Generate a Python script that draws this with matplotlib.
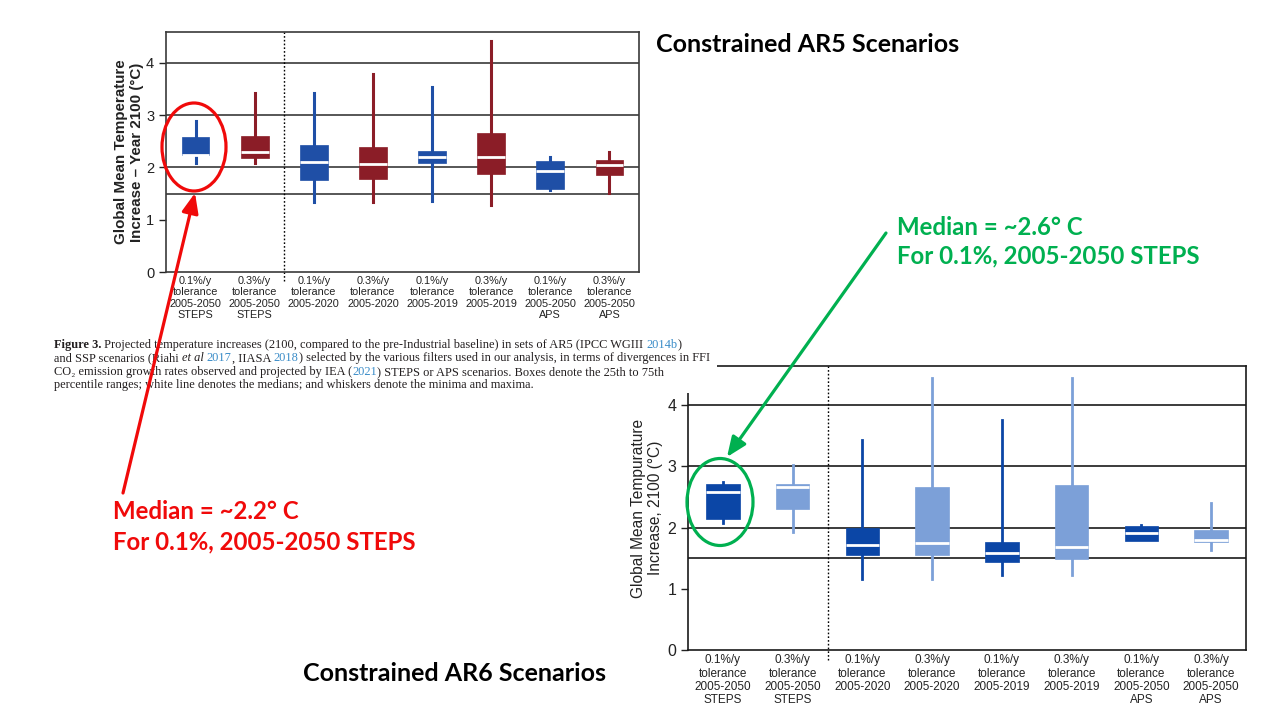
import matplotlib
matplotlib.use("Agg")
import matplotlib.pyplot as plt
from matplotlib.patches import Ellipse, Rectangle

plt.rcParams["font.family"] = ["Liberation Sans", "DejaVu Sans"]

# ---- data ----
labels = ["0.1%/y\ntolerance\n2005-2050\nSTEPS", "0.3%/y\ntolerance\n2005-2050\nSTEPS",
          "0.1%/y\ntolerance\n2005-2020", "0.3%/y\ntolerance\n2005-2020",
          "0.1%/y\ntolerance\n2005-2019", "0.3%/y\ntolerance\n2005-2019",
          "0.1%/y\ntolerance\n2005-2050\nAPS", "0.3%/y\ntolerance\n2005-2050\nAPS"]

# AR5 (upper panel)
ar5_lo  = [2.09, 2.08, 1.34, 1.34, 1.36, 1.29, 1.56, 1.52]
ar5_q1  = [2.23, 2.18, 1.76, 1.77, 2.09, 1.87, 1.58, 1.85]
ar5_med = [2.23, 2.29, 2.10, 2.07, 2.20, 2.20, 1.93, 2.04]
ar5_q3  = [2.58, 2.61, 2.42, 2.39, 2.31, 2.66, 2.13, 2.15]
ar5_hi  = [2.88, 3.43, 3.43, 3.78, 3.54, 4.41, 2.20, 2.30]

# AR6 (lower panel)
ar6_lo  = [2.08, 1.92, 1.16, 1.16, 1.23, 1.23, 1.78, 1.63]
ar6_q1  = [2.14, 2.31, 1.56, 1.56, 1.43, 1.49, 1.78, 1.76]
ar6_med = [2.58, 2.66, 1.72, 1.75, 1.58, 1.69, 1.91, 1.80]
ar6_q3  = [2.72, 2.72, 2.00, 2.66, 1.76, 2.70, 2.03, 1.96]
ar6_hi  = [2.74, 3.03, 3.43, 4.44, 3.76, 4.44, 2.05, 2.40]

grid_levels = [1.5, 2, 3, 4]

C_BLUE5, C_RED5 = "#1f4fa6", "#8b1d27"
C_DARK6, C_LIGHT6 = "#0b46a6", "#7ca0d8"
C_RED, C_GREEN = "#f00a0a", "#00b050"

W, H = 1280, 720
fig = plt.figure(figsize=(W / 100, H / 100), dpi=100)
fig.patch.set_facecolor("white")


def px_axes(l, t, r, b):
    return fig.add_axes([l / W, 1 - b / H, (r - l) / W, (b - t) / H])


def panel(ax, lo, q1, med, q3, hi, colors, width, lw, ytop, frame_c, tick_fs, lab_fs):
    stats = [dict(whislo=a, q1=b, med=c, q3=d, whishi=e, fliers=[])
             for a, b, c, d, e in zip(lo, q1, med, q3, hi)]
    bp = ax.bxp(stats, positions=range(len(stats)), widths=width, patch_artist=True,
                showcaps=False, showfliers=False, manage_ticks=False)
    for i, c in enumerate(colors):
        bp["boxes"][i].set(facecolor=c, edgecolor=c, linewidth=0.5, zorder=3)
        for w in bp["whiskers"][2 * i:2 * i + 2]:
            w.set(color=c, linewidth=lw, zorder=2.5)
        bp["medians"][i].set(color="white", linewidth=2.0, zorder=3.5)
    for g in grid_levels:
        ax.axhline(g, color=frame_c, lw=1.2, zorder=1)
    ax.plot([1.5, 1.5], [-0.17, ytop], ls=(0, (1.2, 1.5)), color="black", lw=1.0,
            clip_on=False, zorder=1)
    ax.set_xlim(-0.5, 7.5)
    ax.set_ylim(0, ytop)
    ax.set_yticks([0, 1, 2, 3, 4])
    ax.set_xticks(range(8))
    ax.set_xticklabels(labels, fontsize=lab_fs, linespacing=1.15)
    ax.tick_params(axis="x", length=0, pad=3, colors="#222222")
    ax.tick_params(axis="y", length=5, width=1, labelsize=tick_fs, colors="#222222")
    for s in ax.spines.values():
        s.set_color(frame_c)
        s.set_linewidth(1.2)


# ---- AR5 panel ----
ax1 = px_axes(166, 32, 639, 272)
panel(ax1, ar5_lo, ar5_q1, ar5_med, ar5_q3, ar5_hi,
      [C_BLUE5, C_RED5] * 4, 0.47, 2.2, 4.59, "#3a3a3a", 10.5, 7.8)
ax1.set_ylabel("Global Mean Temperature\nIncrease \u2013 Year 2100 (\u00b0C)", fontsize=10.9,
               fontweight="bold", va="center", linespacing=1.2, color="#222222")
ax1.yaxis.set_label_coords(-0.078, 0.5)

# ---- AR6 panel ----
ax2 = px_axes(688, 366, 1246, 650)
panel(ax2, ar6_lo, ar6_q1, ar6_med, ar6_q3, ar6_hi,
      [C_DARK6, C_LIGHT6] * 4, 0.48, 2.0, 4.64, "#1a1a1a", 11.5, 8.5)
ax2.set_ylabel("Global Mean Tempurature\nIncrease, 2100 (\u00b0C)", fontsize=11.2,
               va="center", linespacing=1.2, color="#222222")
ax2.yaxis.set_label_coords(-0.0735, 0.5)

# ---- overlay in pixel coordinates ----
ov = fig.add_axes([0, 0, 1, 1], zorder=10)
ov.set_xlim(0, W)
ov.set_ylim(H, 0)
ov.axis("off")
ov.patch.set_alpha(0)

# white backing of the pasted caption (hides the corner of the AR6 frame)
ov.add_patch(Rectangle((675, 352), 42, 41, facecolor="white", edgecolor="none", zorder=1))

# caption, drawn run by run
serif = ["Liberation Serif", "DejaVu Serif"]
C_LINK = "#3a8cc8"
C_CAP = "#231f20"
cap_lines = [
    [("Figure 3.", "bold", "normal", C_CAP),
     (" Projected temperature increases (2100, compared to the pre-Industrial baseline) in sets of AR5 (IPCC WGIII ", "normal", "normal", C_CAP),
     ("2014b", "normal", "normal", C_LINK), (")", "normal", "normal", C_CAP)],
    [("and SSP scenarios (Riahi ", "normal", "normal", C_CAP), ("et al", "normal", "italic", C_CAP),
     (" ", "normal", "normal", C_CAP), ("2017", "normal", "normal", C_LINK),
     (", IIASA ", "normal", "normal", C_CAP), ("2018", "normal", "normal", C_LINK),
     (") selected by the various filters used in our analysis, in terms of divergences in FFI", "normal", "normal", C_CAP)],
    [("CO\u2082 emission growth rates observed and projected by IEA (", "normal", "normal", C_CAP),
     ("2021", "normal", "normal", C_LINK),
     (") STEPS or APS scenarios. Boxes denote the 25th to 75th", "normal", "normal", C_CAP)],
    [("percentile ranges; white line denotes the medians; and whiskers denote the minima and maxima.", "normal", "normal", C_CAP)],
]
renderer = fig.canvas.get_renderer()
for k, line in enumerate(cap_lines):
    x = 54
    for txt, wt, st, col in line:
        t = ov.text(x, 348 + 13.4 * k, txt, ha="left", va="baseline", fontsize=8.9,
                    family=serif, fontweight=wt, style=st, color=col, zorder=3)
        x += t.get_window_extent(renderer).width

# slide titles
title_kw = dict(fontsize=18, fontweight="bold", family=["Lato", "DejaVu Sans"], color="black")
ov.text(656, 52, "Constrained AR5 Scenarios", ha="left", va="baseline", **title_kw)
ov.text(303, 681, "Constrained AR6 Scenarios", ha="left", va="baseline", **title_kw)

note_kw = dict(fontsize=17.3, fontweight="bold", family=["Lato", "DejaVu Sans"],
               ha="left", va="baseline", linespacing=1.25)

# red callout (AR5)
ov.add_patch(Ellipse((194, 147), 64, 88, fill=False, edgecolor=C_RED, lw=2.3, zorder=4))
ov.annotate("", xy=(195, 193), xytext=(123, 493),
            arrowprops=dict(arrowstyle="-|>,head_length=1.2,head_width=0.5",
                            color=C_RED, lw=2.3, shrinkA=0, shrinkB=0))
ov.text(113, 519, "Median = ~2.2\u00b0 C", color=C_RED, **note_kw)
ov.text(113, 549, "For 0.1%, 2005-2050 STEPS", color=C_RED, **note_kw)

# green callout (AR6)
ov.add_patch(Ellipse((720, 502), 66, 87, fill=False, edgecolor=C_GREEN, lw=2.3, zorder=4))
ov.annotate("", xy=(727, 457), xytext=(886, 233),
            arrowprops=dict(arrowstyle="-|>,head_length=1.2,head_width=0.5",
                            color=C_GREEN, lw=2.3, shrinkA=0, shrinkB=0))
ov.text(897, 235, "Median = ~2.6\u00b0 C", color=C_GREEN, **note_kw)
ov.text(897, 263, "For 0.1%, 2005-2050 STEPS", color=C_GREEN, **note_kw)

fig.savefig("out.png", dpi=100, facecolor="white")
